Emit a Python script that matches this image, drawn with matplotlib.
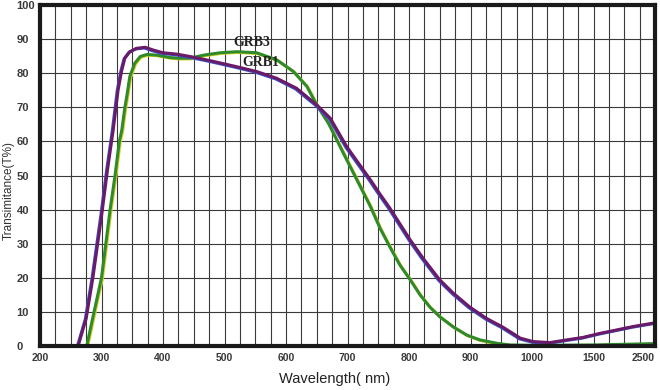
import numpy as np
import matplotlib
matplotlib.use("Agg")
import matplotlib.pyplot as plt
import matplotlib.transforms as mtransforms

plt.rcParams['font.family'] = ['Liberation Sans', 'DejaVu Sans']

# GRB1 transmittance curve (wavelength nm, %)
grb1_wl = [262, 275, 286, 300, 310, 319, 327, 333, 338, 346, 357, 371, 384, 400, 422,
           444, 476, 520, 552, 585, 617, 650, 672, 699, 737, 753, 769, 802, 823, 850,
           872, 899, 926, 953, 981, 1009, 1146, 1283, 1413, 1605, 1875, 2142, 2467, 2500]
grb1_t = [0, 8, 20, 38, 52, 63.3, 75.1, 80.9, 84.4, 86.3, 87.3, 87.6, 86.8, 86, 85.6,
          84.9, 83.7, 81.9, 80.5, 78.5, 75.6, 70.7, 66.8, 58.4, 48.8, 44.5, 40.4, 31.1, 25.7, 19.4,
          15.5, 11.4, 8.1, 5.5, 2.3, 1.3, 1.0, 1.8, 2.5, 3.7, 4.7, 5.7, 6.7, 6.9]

# GRB3 transmittance curve
grb3_wl = [276, 285, 300, 307, 314, 322, 329, 333, 338, 341, 346, 354, 363, 374, 390,
           411, 425, 444, 466, 493, 520, 552, 585, 612, 634, 650, 669, 699, 737, 753,
           769, 785, 802, 818, 834, 850, 872, 894, 915, 943, 964, 1000, 1500, 2500]
grb3_t = [0, 7.6, 20, 30, 40, 50, 60, 63.3, 70, 73.1, 79, 82.9, 84.9, 85.5, 85.3,
          84.6, 84.4, 84.4, 85.3, 86, 86.3, 86, 83.9, 80.5, 76.1, 70.7, 65.3, 54.5, 41, 34.5,
          29, 23.8, 19.4, 15, 11.4, 8.6, 5.6, 3.2, 1.8, 0.8, 0.3, 0.2, 0.3, 0.7]

x_tick_vals = [200, 300, 400, 500, 600, 700, 800, 900, 1000, 1500, 2500]
x_tick_labels = ['200', '300', '400', '500', '600', '700', '800', '900', '1000', '1500', '2500']
y_ticks = list(range(0, 101, 10))

# piecewise wavelength axis (grid cells)
wl_knots = [200, 1000, 1500, 2500]
u_knots = [0, 32, 36, 40]

def fwd(x):
    return np.interp(x, wl_knots, u_knots)

def inv(u):
    return np.interp(u, u_knots, wl_knots)

fig = plt.figure(figsize=(6.6, 3.9), dpi=100)
ax = fig.add_axes([40/660, 1-346/390, 615/660, 341/390])
ax.set_xscale('function', functions=(fwd, inv))
ax.set_xlim(200, 2500)
ax.set_ylim(0, 100)

minor = [inv(k) for k in range(0, 41)]
ax.set_xticks(minor, minor=True)
ax.set_xticks(x_tick_vals)
ax.set_xticklabels(x_tick_labels)
ax.set_yticks(y_ticks)
ax.grid(True, which='both', axis='x', color='#3a3a3a', lw=0.8)
ax.grid(True, which='major', axis='y', color='#3a3a3a', lw=0.8)
ax.tick_params(which='both', length=0, labelcolor='#3a3a3a')
ax.tick_params(axis='x', pad=5, labelsize=7.5)
ax.tick_params(axis='y', pad=17, labelsize=8)
for lab in ax.get_xticklabels() + ax.get_yticklabels():
    lab.set_fontweight('bold')
for lab in ax.get_yticklabels():
    lab.set_horizontalalignment('left')
ax.get_xticklabels()[-1].set_horizontalalignment('right')
for s in ax.spines.values():
    s.set_linewidth(3)
    s.set_color('#1a1a1a')
ax.set_axisbelow(True)

off_b = mtransforms.offset_copy(ax.transData, fig=fig, x=-0.9, y=-0.7, units='dots')
off_y = mtransforms.offset_copy(ax.transData, fig=fig, x=0.9, y=-0.7, units='dots')

ax.plot(grb3_wl, grb3_t, color='#d8d020', lw=2.2, transform=off_y, solid_joinstyle='round')
ax.plot(grb3_wl, grb3_t, color='#2e8a2a', lw=2.2, solid_joinstyle='round')
ax.plot(grb1_wl, grb1_t, color='#3a50c8', lw=2.2, transform=off_b, solid_joinstyle='round')
ax.plot(grb1_wl, grb1_t, color='#6a1a66', lw=2.2, solid_joinstyle='round')

ax.text(545, 89.0, 'GRB3', family=['Liberation Serif', 'DejaVu Serif'], fontweight='bold',
        fontsize=10, color='#222222', ha='center', va='center')
ax.text(559, 83.1, 'GRB1', family=['Liberation Serif', 'DejaVu Serif'], fontweight='bold',
        fontsize=10, color='#222222', ha='center', va='center')

ax.set_xlabel('Wavelength( nm)', fontsize=10.5, color='#222222')
ax.xaxis.set_label_coords((335-40)/615, (346-372)/341)
ax.set_ylabel('Transimitance(T%)', fontsize=8.5, color='#333333')
ax.yaxis.set_label_coords((15-40)/615, (346-191)/341)

fig.savefig('out.png', dpi=100)
